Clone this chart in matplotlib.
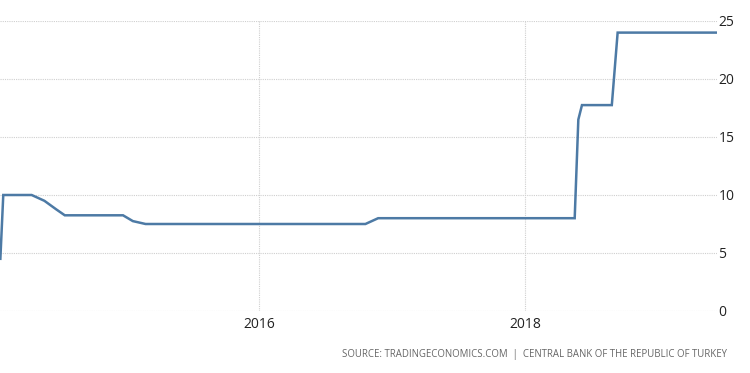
import matplotlib
matplotlib.use("Agg")
import matplotlib.pyplot as plt
import matplotlib.dates as mdates
import pandas as pd

# Turkey policy rate (%)
dates = [
    "2014-01-21", "2014-01-29", "2014-02-18", "2014-03-25", "2014-04-17",
    "2014-05-22", "2014-06-24", "2014-07-17", "2014-08-21", "2014-09-23",
    "2014-10-23", "2014-11-25", "2014-12-24", "2015-01-20", "2015-02-24",
    "2015-03-17", "2015-04-22", "2015-05-21", "2015-06-23", "2015-07-21",
    "2015-08-20", "2015-09-22", "2015-10-21", "2015-11-24", "2015-12-22",
    "2016-01-19", "2016-02-23", "2016-03-24", "2016-04-21", "2016-05-24",
    "2016-06-21", "2016-07-19", "2016-08-23", "2016-09-20", "2016-10-20",
    "2016-11-24", "2016-12-20", "2017-01-24", "2017-03-16", "2017-04-26",
    "2017-06-15", "2017-07-27", "2017-09-14", "2017-10-26", "2017-12-14",
    "2018-01-18", "2018-03-07", "2018-04-25", "2018-05-18", "2018-05-28",
    "2018-06-07", "2018-07-24", "2018-08-28", "2018-09-13", "2018-10-25",
    "2018-12-13", "2019-01-16", "2019-03-06", "2019-04-25", "2019-06-12",
]
rates = [
    4.5, 10, 10, 10, 10,
    9.5, 8.75, 8.25, 8.25, 8.25,
    8.25, 8.25, 8.25, 7.75, 7.5,
    7.5, 7.5, 7.5, 7.5, 7.5,
    7.5, 7.5, 7.5, 7.5, 7.5,
    7.5, 7.5, 7.5, 7.5, 7.5,
    7.5, 7.5, 7.5, 7.5, 7.5,
    8.0, 8.0, 8.0, 8.0, 8.0,
    8.0, 8.0, 8.0, 8.0, 8.0,
    8.0, 8.0, 8.0, 8.0, 16.5,
    17.75, 17.75, 17.75, 24, 24,
    24, 24, 24, 24, 24,
]
y_ticks = [0, 5, 10, 15, 20, 25]
x_ticks = ["2016-01-01", "2018-01-01"]
source = "SOURCE: TRADINGECONOMICS.COM  |  CENTRAL BANK OF THE REPUBLIC OF TURKEY"

x = pd.to_datetime(dates)

plt.rcParams["font.family"] = ["Open Sans", "DejaVu Sans"]

fig = plt.figure(figsize=(7.5, 3.73), dpi=100)
ax = fig.add_axes([0.0, 1 - 311 / 373, 717 / 750, 290 / 373])

ax.plot(x, rates, color="#4d7aa5", linewidth=1.8, solid_joinstyle="miter")

ax.set_ylim(0, 25)
ax.set_xlim(pd.Timestamp("2014-01-20"), pd.Timestamp("2019-06-13"))
ax.set_yticks(y_ticks)
ax.set_xticks(pd.to_datetime(x_ticks))
ax.xaxis.set_major_formatter(mdates.DateFormatter("%Y"))

ax.yaxis.tick_right()
ax.tick_params(axis="both", length=0, labelsize=10, colors="#222222")
ax.tick_params(axis="y", pad=1)
ax.tick_params(axis="x", pad=4)

ax.grid(True, color="#cfcfcf", linestyle=(0, (1, 1)), linewidth=0.8)
ax.set_axisbelow(True)
for s in ax.spines.values():
    s.set_visible(False)

fig.text(727 / 750, 1 - 355 / 373, source, ha="right", va="center",
         fontsize=6.9, color="#666666")

fig.savefig("out.png", dpi=100)
